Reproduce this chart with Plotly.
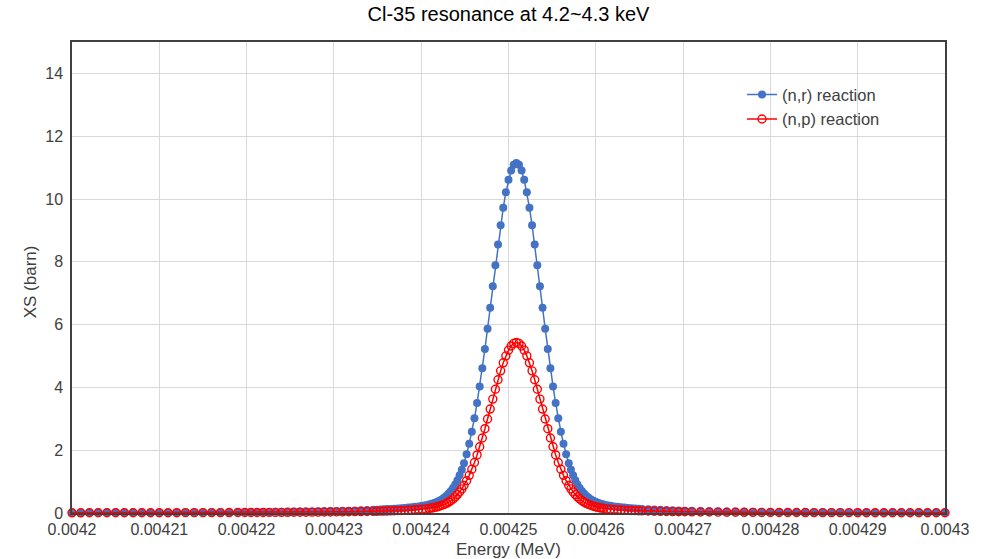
import plotly.graph_objects as go

# Energy grid (MeV)
energy_mev = [
    0.0042000, 0.0042010, 0.0042020, 0.0042030, 0.0042040, 0.0042050, 0.0042060, 0.0042070, 0.0042080, 0.0042090,
    0.0042100, 0.0042110, 0.0042120, 0.0042130, 0.0042140, 0.0042150, 0.0042160, 0.0042170, 0.0042180, 0.0042190,
    0.0042198, 0.0042205, 0.0042212, 0.0042219, 0.0042226, 0.0042233, 0.0042240, 0.0042247, 0.0042254, 0.0042261,
    0.0042268, 0.0042275, 0.0042282, 0.0042289, 0.0042296, 0.0042303, 0.0042310, 0.0042317, 0.0042324, 0.0042331,
    0.0042338, 0.0042345,
    0.0042349, 0.0042353, 0.0042357, 0.0042361, 0.0042365, 0.0042369, 0.0042373, 0.0042377, 0.0042381, 0.0042385,
    0.0042389, 0.0042393, 0.0042397, 0.0042401, 0.0042405,
    0.00424090, 0.00424115, 0.00424140, 0.00424165, 0.00424190, 0.00424215, 0.00424240, 0.00424265, 0.00424290,
    0.00424315, 0.00424340, 0.00424365, 0.00424390, 0.00424415, 0.00424440, 0.00424465,
    0.00424490, 0.00424520, 0.00424550, 0.00424580, 0.00424610, 0.00424640, 0.00424670, 0.00424700, 0.00424730,
    0.00424760, 0.00424790, 0.00424820, 0.00424850, 0.00424880, 0.00424910, 0.00424940, 0.00424970, 0.00425000,
    0.00425030, 0.00425060, 0.00425090, 0.00425120, 0.00425150, 0.00425180, 0.00425210, 0.00425240, 0.00425270,
    0.00425300, 0.00425330, 0.00425360, 0.00425390, 0.00425420, 0.00425450, 0.00425480, 0.00425510, 0.00425540,
    0.00425570, 0.00425600, 0.00425630, 0.00425660, 0.00425690,
    0.00425715, 0.00425740, 0.00425765, 0.00425790, 0.00425815, 0.00425840, 0.00425865, 0.00425890, 0.00425915,
    0.00425940, 0.00425965, 0.00425990, 0.00426015, 0.00426040, 0.00426065, 0.00426090,
    0.0042613, 0.0042617, 0.0042621, 0.0042625, 0.0042629, 0.0042633, 0.0042637, 0.0042641, 0.0042645, 0.0042649,
    0.0042653,
    0.0042660, 0.0042667, 0.0042674, 0.0042681, 0.0042688, 0.0042695, 0.0042702,
    0.0042710, 0.0042720, 0.0042730, 0.0042740, 0.0042750, 0.0042760, 0.0042770, 0.0042780, 0.0042790, 0.0042800,
    0.0042810, 0.0042820, 0.0042830, 0.0042840, 0.0042850, 0.0042860, 0.0042870, 0.0042880, 0.0042890, 0.0042900,
    0.0042910, 0.0042920, 0.0042930, 0.0042940, 0.0042950, 0.0042960, 0.0042970, 0.0042980, 0.0042990, 0.0043000,
]

# (n,r) reaction cross section (barn)
xs_nr = [
    0.01116, 0.01160, 0.01208, 0.01259, 0.01312, 0.01370, 0.01431, 0.01496, 0.01566, 0.01641,
    0.01722, 0.01808, 0.01902, 0.02002, 0.02111, 0.02229, 0.02356, 0.02496, 0.02647, 0.02813,
    0.0296, 0.0309, 0.0324, 0.0339, 0.0356, 0.0374, 0.0393, 0.0414, 0.0436, 0.0461,
    0.0487, 0.0516, 0.0547, 0.0582, 0.0619, 0.0660, 0.0706, 0.0756, 0.0812, 0.0874,
    0.0943, 0.1020,
    0.107, 0.112, 0.118, 0.124, 0.130, 0.137, 0.145, 0.153, 0.162, 0.172,
    0.183, 0.196, 0.210, 0.227, 0.247,
    0.271, 0.289, 0.311, 0.336, 0.365, 0.400, 0.441, 0.490, 0.548,
    0.618, 0.700, 0.797, 0.911, 1.045, 1.200, 1.380,
    1.587, 1.875, 2.207, 2.589, 3.020, 3.501, 4.031, 4.607, 5.223,
    5.870, 6.540, 7.220, 7.894, 8.548, 9.164, 9.724, 10.212, 10.611,
    10.906, 11.088, 11.150, 11.088, 10.906, 10.611, 10.212, 9.724, 9.164,
    8.548, 7.894, 7.220, 6.540, 5.870, 5.223, 4.607, 4.031, 3.501,
    3.020, 2.589, 2.207, 1.875, 1.587,
    1.380, 1.200, 1.045, 0.911, 0.797, 0.700, 0.618, 0.548, 0.490,
    0.441, 0.400, 0.365, 0.336, 0.311, 0.289, 0.271,
    0.247, 0.227, 0.210, 0.196, 0.183, 0.172, 0.162, 0.153, 0.145, 0.137,
    0.130,
    0.1192, 0.1095, 0.1009, 0.0933, 0.0864, 0.0803, 0.0749,
    0.06924, 0.06305, 0.05765, 0.05291, 0.04873, 0.04501, 0.04171, 0.03875, 0.03610, 0.03370,
    0.03154, 0.02958, 0.02779, 0.02616, 0.02467, 0.02330, 0.02204, 0.02088, 0.01981, 0.01882,
    0.01791, 0.01705, 0.01626, 0.01552, 0.01483, 0.01419, 0.01358, 0.01301, 0.01248, 0.01198,
]

# (n,p) reaction cross section (barn)
xs_np = [
    0.005845, 0.006080, 0.006329, 0.006594, 0.006876, 0.007177, 0.007497, 0.007840, 0.008206, 0.008598,
    0.009020, 0.009473, 0.009960, 0.010487, 0.011055, 0.011672, 0.012341, 0.013069, 0.013862, 0.014731,
    0.01548, 0.01619, 0.01695, 0.01776, 0.01863, 0.01957, 0.02058, 0.02166, 0.02284, 0.02411,
    0.02549, 0.02699, 0.02863, 0.03041, 0.03237, 0.03452, 0.03689, 0.03950, 0.04241, 0.04563,
    0.04923, 0.05327,
    0.0558, 0.0585, 0.0614, 0.0645, 0.0679, 0.0715, 0.0755, 0.0798, 0.0846, 0.090,
    0.096, 0.103, 0.111, 0.120, 0.131,
    0.146, 0.157, 0.169, 0.184, 0.201, 0.222, 0.246, 0.275, 0.308,
    0.348, 0.395, 0.449, 0.513, 0.586, 0.671, 0.767,
    0.877, 1.027, 1.199, 1.393, 1.610, 1.849, 2.109, 2.389, 2.685,
    2.994, 3.310, 3.628, 3.942, 4.244, 4.527, 4.783, 5.005, 5.186,
    5.320, 5.402, 5.430, 5.402, 5.320, 5.186, 5.005, 4.783, 4.527,
    4.244, 3.942, 3.628, 3.310, 2.994, 2.685, 2.389, 2.109, 1.849,
    1.610, 1.393, 1.199, 1.027, 0.877,
    0.767, 0.671, 0.586, 0.513, 0.449, 0.395, 0.348, 0.308, 0.275,
    0.246, 0.222, 0.201, 0.184, 0.169, 0.157, 0.146,
    0.131, 0.120, 0.111, 0.103, 0.096, 0.090, 0.0846, 0.0798, 0.0755, 0.0715,
    0.0679,
    0.0622, 0.0571, 0.0527, 0.0487, 0.0451, 0.0420, 0.0391,
    0.03619, 0.03296, 0.03015, 0.02767, 0.02549, 0.02355, 0.02183, 0.02028, 0.01889, 0.01764,
    0.01651, 0.01548, 0.01455, 0.01370, 0.01292, 0.01220, 0.01154, 0.01094, 0.01038, 0.00986,
    0.00938, 0.00893, 0.00852, 0.00813, 0.00777, 0.00743, 0.00711, 0.00682, 0.00654, 0.00628,
]

x_tick_vals = [0.0042, 0.00421, 0.00422, 0.00423, 0.00424, 0.00425, 0.00426, 0.00427, 0.00428, 0.00429, 0.0043]
x_tick_text = ["0.0042", "0.00421", "0.00422", "0.00423", "0.00424", "0.00425",
               "0.00426", "0.00427", "0.00428", "0.00429", "0.0043"]
y_tick_vals = [0, 2, 4, 6, 8, 10, 12, 14]

FONT = "Liberation Sans, Arial, sans-serif"
TXT = "#404040"

fig = go.Figure()
fig.add_trace(go.Scatter(
    x=energy_mev, y=xs_nr, name="(n,r) reaction", mode="lines+markers",
    line=dict(color="#4472C4", width=1.5),
    marker=dict(symbol="circle", size=8, color="#4472C4"),
    cliponaxis=False,
))
fig.add_trace(go.Scatter(
    x=energy_mev, y=xs_np, name="(n,p) reaction", mode="lines+markers",
    line=dict(color="#FF0000", width=1.5),
    marker=dict(symbol="circle-open", size=8, color="#FF0000", line=dict(width=1.4, color="#FF0000")),
    cliponaxis=False,
))

fig.update_layout(
    width=984, height=559,
    margin=dict(l=72, r=39, t=42, b=46, autoexpand=False),
    paper_bgcolor="white", plot_bgcolor="white",
    title=dict(text="Cl-35 resonance at 4.2~4.3 keV", x=0.5, xref="paper", xanchor="center",
               y=0.975, yanchor="middle", font=dict(family=FONT, size=20, color="#000000")),
    font=dict(family=FONT, size=16, color=TXT),
    legend=dict(x=0.7675, y=0.925, xanchor="left", yanchor="top",
                bgcolor="rgba(0,0,0,0)", font=dict(family=FONT, size=16.5, color=TXT),
                tracegroupgap=0, itemwidth=30),
    showlegend=True,
    annotations=[
        dict(text="Energy (MeV)", x=0.5, xref="paper", y=-0.077, yref="paper",
             xanchor="center", yanchor="middle", showarrow=False,
             font=dict(family=FONT, size=17, color=TXT)),
        dict(text="XS (barn)", x=-0.048, xref="paper", y=0.49, yref="paper",
             xanchor="center", yanchor="middle", showarrow=False, textangle=-90,
             font=dict(family=FONT, size=17, color=TXT)),
    ],
)
fig.update_xaxes(
    range=[0.0042, 0.0043], tickvals=x_tick_vals, ticktext=x_tick_text,
    showgrid=True, gridcolor="#D9D9D9", gridwidth=1,
    showline=True, linecolor="#404040", linewidth=1.5, mirror=True,
    zeroline=False, ticks="", automargin=False, ticklabelstandoff=1,
    tickfont=dict(family=FONT, size=16, color=TXT),
)
fig.update_yaxes(
    range=[0, 15], tickvals=y_tick_vals,
    showgrid=True, gridcolor="#D9D9D9", gridwidth=1,
    showline=True, linecolor="#404040", linewidth=1.5, mirror=True,
    zeroline=False, ticks="", automargin=False, ticklabelstandoff=4,
    tickfont=dict(family=FONT, size=16, color=TXT),
)

fig.write_html("out.html")
